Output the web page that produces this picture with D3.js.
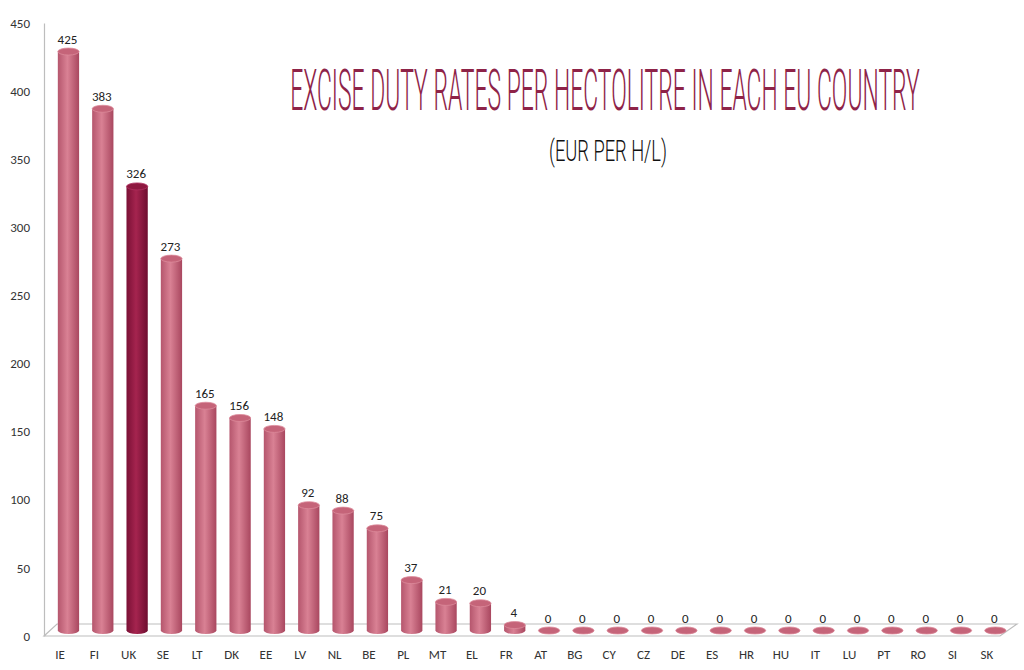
<!DOCTYPE html>
<html><head><meta charset="utf-8">
<script src="https://cdn.jsdelivr.net/npm/d3@7"></script>
<style>body{margin:0;background:#fff;} svg{display:block;}</style>
</head><body>
<script>
const countries = ["IE","FI","UK","SE","LT","DK","EE","LV","NL","BE","PL","MT","EL","FR","AT","BG","CY","CZ","DE","ES","HR","HU","IT","LU","PT","RO","SI","SK"];
const rates = [425,383,326,273,165,156,148,92,88,75,37,21,20,4,0,0,0,0,0,0,0,0,0,0,0,0,0,0];
const highlighted = ["UK"];
const yTicks = [0,50,100,150,200,250,300,350,400,450];
const titleText = "EXCISE DUTY RATES PER HECTOLITRE IN EACH EU COUNTRY";
const subtitleText = "(EUR PER H/L)";

const W = 1024, H = 670;
const svg = d3.select("body").append("svg").attr("width", W).attr("height", H);
const defs = svg.append("defs");
const FONT = "Carlito, 'Open Sans', 'Liberation Sans', Arial, sans-serif";

function cylGrad(id, c0, c1, c2){
  const g = defs.append("linearGradient").attr("id", id).attr("x1","0").attr("x2","1").attr("y1","0").attr("y2","0");
  g.append("stop").attr("offset","0").attr("stop-color", c0);
  g.append("stop").attr("offset","0.45").attr("stop-color", c1);
  g.append("stop").attr("offset","1").attr("stop-color", c2);
}
cylGrad("gPink", "#b5566d", "#d98194", "#a9475f");
cylGrad("gDark", "#7a1035", "#a5244f", "#6e0d2f");

const x = d3.scaleBand().domain(countries).range([42.8, 1004]).paddingInner(0.38).paddingOuter(0.19);
const y = d3.scaleLinear().domain([0,450]).range([636, 23]);
const depthDx = 8.5, depthDy = 5.5;

// floor
svg.append("path")
  .attr("d", "M44,636 L1000,636 L1017,624 L57,624 Z")
  .attr("fill","#fff").attr("stroke","#bdbdbd").attr("stroke-width",1.2);

// y axis
const yAxis = d3.axisLeft(y).tickValues(yTicks).tickSize(0).tickPadding(14);
const ga = svg.append("g").attr("transform","translate(44,0)").call(yAxis);
ga.select(".domain").attr("stroke","#bdbdbd").attr("stroke-width",1.2);
ga.selectAll("text").attr("font-family",FONT).attr("font-size",13).attr("fill","#333");

// x axis labels
const gx = svg.append("g").attr("transform","translate(0,636)").call(d3.axisBottom(x).tickSize(0).tickPadding(14));
gx.select(".domain").remove();
gx.selectAll("text").attr("font-family",FONT).attr("font-size",13).attr("fill","#333");

// bars (cylinders)
const rx = x.bandwidth()/2, ry = 3.5;
const bars = svg.append("g").selectAll("g").data(countries).join("g");
bars.each(function(c, i){
  const v = rates[i];
  const cx = x(c) + x.bandwidth()/2 + depthDx;
  const yb = y(0) - depthDy;
  const yt = y(v) - depthDy;
  const hi = highlighted.includes(c);
  const g = d3.select(this);
  g.append("path")
    .attr("d", `M${cx-rx},${yt} L${cx-rx},${yb} A${rx},${ry} 0 0 0 ${cx+rx},${yb} L${cx+rx},${yt} Z`)
    .attr("fill", hi ? "url(#gDark)" : "url(#gPink)");
  g.append("ellipse").attr("cx",cx).attr("cy",yt).attr("rx",rx).attr("ry",ry)
    .attr("fill", hi ? "#8e1840" : "#c56479")
    .attr("stroke", hi ? "#b03060" : "#dc8a9b").attr("stroke-width",0.8);
  g.append("text").attr("x", cx - 1).attr("y", yt - 8)
    .attr("text-anchor","middle")
    .attr("font-family",FONT).attr("font-size",13).attr("fill","#222")
    .text(v);
});

// titles (horizontally compressed to mimic the narrow hand-drawn lettering)
function squeezedText(txt, cx, baseline, size, targetW, color, weight){
  const g = svg.append("g");
  const t = g.append("text").attr("x",0).attr("y",0).attr("text-anchor","middle")
    .attr("font-family","Roboto, 'DejaVu Sans', sans-serif").attr("font-weight",weight)
    .attr("font-size",size).attr("fill",color).text(txt);
  const w = t.node().getComputedTextLength();
  g.attr("transform", `translate(${cx},${baseline}) scale(${targetW/w},1)`);
}
squeezedText(titleText, 605, 110, 58, 630, "#8e2348", 300);
squeezedText(subtitleText, 608, 161, 30, 118, "#111", 300);
</script>
</body></html>
